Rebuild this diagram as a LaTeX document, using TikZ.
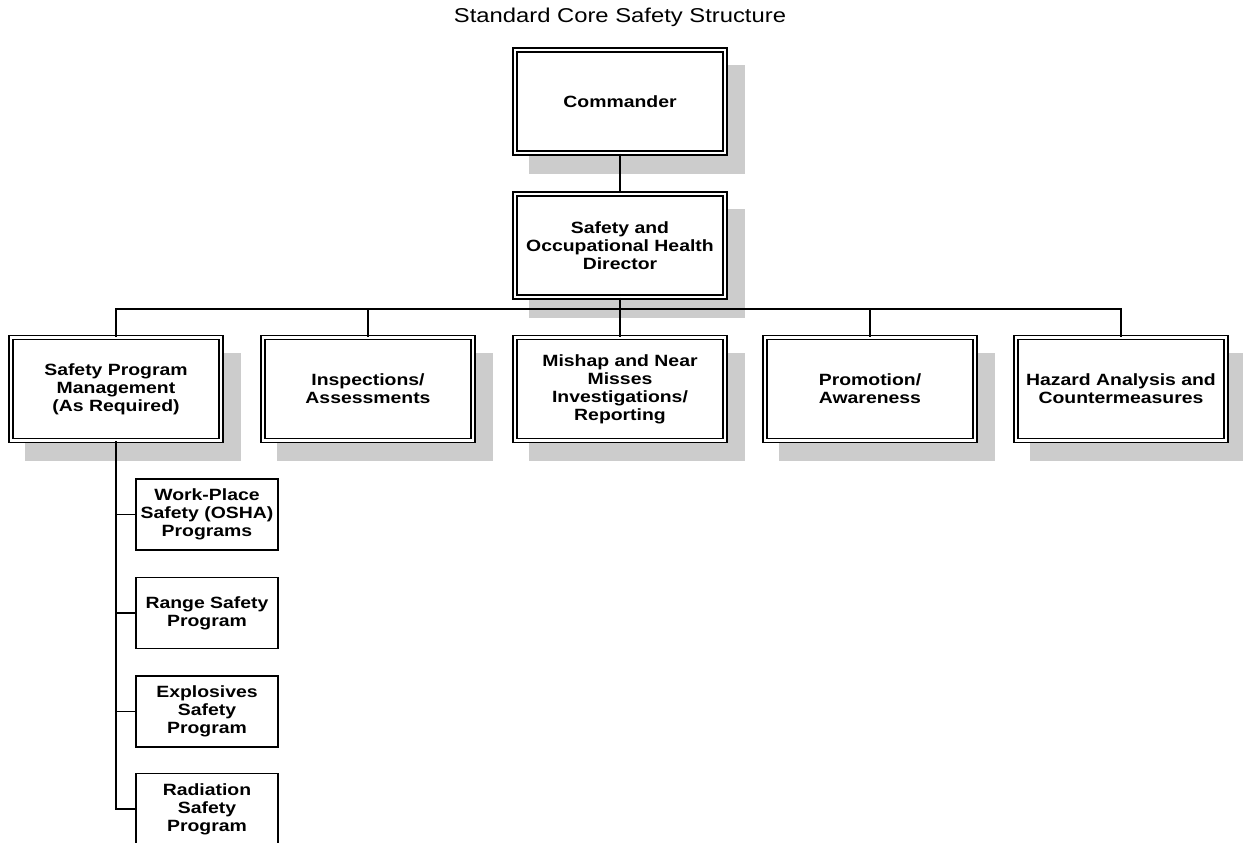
\documentclass[tikz,border=0pt]{standalone}
\usepackage{fontspec}
\setmainfont{Liberation Sans}[FakeStretch=1.19]
\usetikzlibrary{positioning, shadows}

\begin{document}
\begin{tikzpicture}[
        x=1pt, y=-1pt,
        unit/.style={draw, fill=white, double, line width=1.3pt, double distance=2.7pt, rectangle, minimum width=210pt, minimum height=103pt, align=center, inner sep=0pt, drop shadow={shadow xshift=17pt, shadow yshift=-18pt, fill=black!20, draw=black!20, line width=5.3pt, opacity=1}},
        program/.style={draw, fill=white, line width=1.4pt, rectangle, minimum width=142pt, minimum height=71pt, align=center, inner sep=0pt},
        heading/.style={font=\fontsize{20}{24}\selectfont},
        link/.style={line width=1.3pt},
        font=\fontsize{16.3}{18}\selectfont\bfseries
    ]
    \path[fill=white] (0,0) rectangle (1243,843);
    \useasboundingbox (0,0) rectangle (1243,843);

    % Nodes
    \node[heading] (title) at (620, 17) {Standard Core Safety Structure};
    \node[unit] (cmdr) at (620, 101.5) {Commander};
    \node[unit] (soh) at (620, 245.5) {Safety and\\Occupational Health\\Director};

    \node[unit] (spm) at (116, 389) {Safety Program\\Management\\(As Required)};
    \node[unit] (insp) at (368, 389) {Inspections/\\Assessments};
    \node[unit] (mishap) at (620, 389) {Mishap and Near\\Misses\\Investigations/\\Reporting};
    \node[unit] (promo) at (870, 389) {Promotion/\\Awareness};
    \node[unit] (hazard) at (1121, 389) {Hazard Analysis and\\Countermeasures};

    \node[program] (osha) at (207, 514.5) {Work-Place\\Safety (OSHA)\\Programs};
    \node[program] (range) at (207, 613) {Range Safety\\Program};
    \node[program] (expl) at (207, 711.5) {Explosives\\Safety\\Program};
    \node[program] (rad) at (207, 809) {Radiation\\Safety\\Program};

    \coordinate (bus) at (620, 309);

    % Connectors
    \draw[link] (cmdr.south) -- (soh.north);
    \draw[link] (soh.south) -- (bus);
    \foreach \n in {spm, insp, mishap, promo, hazard}
        \draw[link] (bus) -| (\n.north);

    % Programs under Safety Program Management
    \foreach \n in {osha, range, expl, rad}
        \draw[link] (spm.south) |- (\n.west);
\end{tikzpicture}
\end{document}
